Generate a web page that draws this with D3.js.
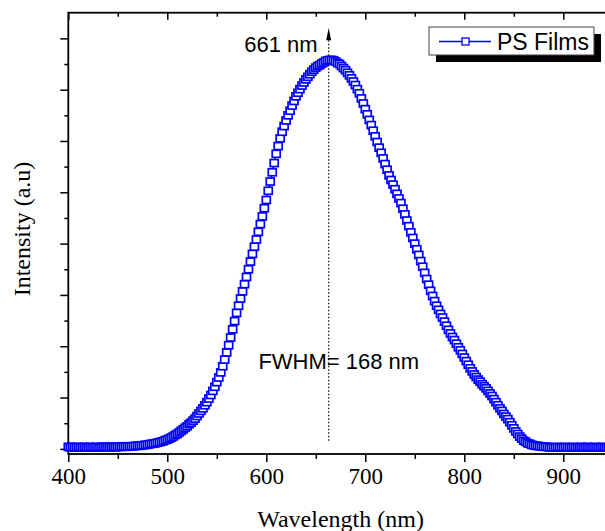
<!DOCTYPE html>
<html>
<head>
<meta charset="utf-8">
<script src="https://cdn.jsdelivr.net/npm/d3@7"></script>
<style>
  body { margin: 0; background: #fff; }
  svg { display: block; }
</style>
</head>
<body>
<svg id="chart"></svg>
<script>
const startWl = 400, stepWl = 2;
const intensity = [
  0.04, 0.03, 0.04, 0.03, 0.03, 0.04, 0.03, 0.03, 0.04, 0.03,
  0.03, 0.04, 0.03, 0.03, 0.04, 0.03, 0.03, 0.04, 0.04, 0.03,
  0.04, 0.03, 0.04, 0.04, 0.03, 0.04, 0.04, 0.04, 0.05, 0.04,
  0.05, 0.05, 0.05, 0.05, 0.06, 0.06, 0.06, 0.07, 0.07, 0.08,
  0.08, 0.09, 0.10, 0.10, 0.11, 0.12, 0.13, 0.14, 0.15, 0.17,
  0.18, 0.20, 0.22, 0.24, 0.27, 0.29, 0.32, 0.35, 0.38, 0.41,
  0.44, 0.48, 0.51, 0.55, 0.59, 0.64, 0.69, 0.74, 0.79, 0.85,
  0.91, 0.98, 1.05, 1.13, 1.21, 1.30, 1.39, 1.49, 1.61, 1.74,
  1.88, 2.02, 2.17, 2.33, 2.49, 2.65, 2.79, 2.93, 3.07, 3.21,
  3.35, 3.50, 3.65, 3.80, 3.94, 4.08, 4.23, 4.38, 4.53, 4.69,
  4.85, 5.03, 5.21, 5.39, 5.57, 5.75, 5.90, 6.05, 6.18, 6.29,
  6.40, 6.50, 6.59, 6.69, 6.78, 6.87, 6.94, 7.01, 7.08, 7.14,
  7.20, 7.25, 7.30, 7.35, 7.39, 7.43, 7.46, 7.48, 7.51, 7.53,
  7.56, 7.57, 7.58, 7.58, 7.57, 7.55, 7.52, 7.50, 7.46, 7.42,
  7.38, 7.33, 7.28, 7.22, 7.16, 7.09, 7.01, 6.93, 6.83, 6.73,
  6.62, 6.52, 6.41, 6.31, 6.20, 6.09, 5.98, 5.87, 5.77, 5.66,
  5.55, 5.44, 5.33, 5.24, 5.15, 5.06, 4.97, 4.88, 4.79, 4.68,
  4.57, 4.45, 4.34, 4.22, 4.11, 4.00, 3.89, 3.78, 3.66, 3.55,
  3.43, 3.31, 3.20, 3.08, 2.98, 2.88, 2.79, 2.71, 2.63, 2.56,
  2.48, 2.40, 2.32, 2.25, 2.18, 2.12, 2.05, 1.98, 1.92, 1.85,
  1.78, 1.71, 1.64, 1.57, 1.51, 1.45, 1.40, 1.35, 1.31, 1.26,
  1.22, 1.18, 1.13, 1.08, 1.03, 0.97, 0.91, 0.85, 0.79, 0.74,
  0.68, 0.63, 0.58, 0.52, 0.46, 0.40, 0.34, 0.29, 0.24, 0.20,
  0.16, 0.14, 0.11, 0.10, 0.08, 0.07, 0.06, 0.06, 0.05, 0.05,
  0.04, 0.04, 0.04, 0.03, 0.03, 0.03, 0.03, 0.04, 0.03, 0.03,
  0.03, 0.04, 0.03, 0.03, 0.03, 0.04, 0.03, 0.03, 0.03, 0.04,
  0.03, 0.03, 0.04, 0.03, 0.03, 0.03, 0.04, 0.03, 0.03, 0.03,
  0.04, 0.03, 0.03, 0.03, 0.03, 0.03
];
const wavelength = intensity.map((v, i) => startWl + i * stepWl);

const xMajor = [400, 500, 600, 700, 800, 900];
const xMinor = [450, 550, 650, 750, 850, 950];
const yMajor = [0, 1, 2, 3, 4, 5, 6, 7, 8];
const yMinor = [0.5, 1.5, 2.5, 3.5, 4.5, 5.5, 6.5, 7.5];

const seriesName = "PS Films";
const peakLine = 663;          // where the dotted marker sits
const peakText = "661 nm";
const fwhmText = "FWHM= 168 nm";
const fwhmPos = [592, 1.56];   // label anchor in data units

const width = 605, height = 531;
const blue = "#0000ff";

const svg = d3.select("#chart")
  .attr("width", width)
  .attr("height", height);

const x = d3.scaleLinear().domain([400, 950]).range([68.3, 612.8]);
const y = d3.scaleLinear().domain([-0.1, 8.5]).range([454, 12.7]);

const serif = "'Liberation Serif', 'Times New Roman', serif";
const sans = "'Liberation Sans', Arial, sans-serif";

// helper: draw an axis without its domain path
function drawAxis(axis, tx, ty, labels) {
  const g = svg.append("g")
    .attr("transform", `translate(${tx},${ty})`)
    .call(axis);
  g.select(".domain").remove();
  g.selectAll(".tick line").attr("stroke", "#000").attr("stroke-width", 1.5);
  if (!labels) g.selectAll(".tick text").remove();
  return g;
}

// bottom axis
const bottomMajor = drawAxis(d3.axisBottom(x).tickValues(xMajor).tickSize(8).tickPadding(6), 0, 454, true);
bottomMajor.selectAll(".tick text")
  .attr("font-family", serif)
  .attr("font-size", "23px")
  .attr("fill", "#000");
drawAxis(d3.axisBottom(x).tickValues(xMinor).tickSize(5), 0, 454, false);

// top axis (ticks point inward)
drawAxis(d3.axisTop(x).tickValues(xMajor).tickSize(-7), 0, 12.7, false);
drawAxis(d3.axisTop(x).tickValues(xMinor).tickSize(-4), 0, 12.7, false);

// left axis
drawAxis(d3.axisLeft(y).tickValues(yMajor).tickSize(8), 68.3, 0, false);
drawAxis(d3.axisLeft(y).tickValues(yMinor).tickSize(4), 68.3, 0, false);

// right axis (ticks inward)
drawAxis(d3.axisRight(y).tickValues(yMajor).tickSize(-7), 612.8, 0, false);
drawAxis(d3.axisRight(y).tickValues(yMinor).tickSize(-4), 612.8, 0, false);

// frame
svg.append("rect")
  .attr("x", x(400))
  .attr("y", y(8.5))
  .attr("width", x(950) - x(400))
  .attr("height", y(-0.1) - y(8.5))
  .attr("fill", "none")
  .attr("stroke", "#000")
  .attr("stroke-width", 1.8);

// dotted peak marker with arrow
svg.append("line")
  .attr("x1", x(peakLine)).attr("x2", x(peakLine))
  .attr("y1", y(0.16)).attr("y2", y(8.0))
  .attr("stroke", "#222")
  .attr("stroke-width", 1.4)
  .attr("stroke-dasharray", "1.5,2");
svg.append("path")
  .attr("d", `M${x(peakLine)},${y(8.2)} L${x(peakLine) - 2.5},${y(8.0) + 2} L${x(peakLine) + 2.5},${y(8.0) + 2} Z`)
  .attr("fill", "#000");

// spectrum line + open squares
const data = wavelength.map((w, i) => ({ w: w, v: intensity[i] }));

svg.append("path")
  .datum(data)
  .attr("fill", "none")
  .attr("stroke", blue)
  .attr("stroke-width", 1.6)
  .attr("d", d3.line().x(d => x(d.w)).y(d => y(d.v)));

svg.selectAll("rect.pt")
  .data(data)
  .enter()
  .append("rect")
  .attr("class", "pt")
  .attr("x", d => x(d.w) - 4)
  .attr("y", d => y(d.v) - 3.5)
  .attr("width", 8)
  .attr("height", 7)
  .attr("fill", "#fff")
  .attr("stroke", blue)
  .attr("stroke-width", 1.7);

// annotations
svg.append("text")
  .attr("x", x(peakLine) - 11)
  .attr("y", 52)
  .attr("text-anchor", "end")
  .attr("font-family", sans)
  .attr("font-size", "22px")
  .attr("fill", "#000")
  .text(peakText);

svg.append("text")
  .attr("x", x(fwhmPos[0]))
  .attr("y", y(fwhmPos[1]))
  .attr("font-family", sans)
  .attr("font-size", "22px")
  .attr("fill", "#000")
  .text(fwhmText);

// legend with drop shadow
const lg = svg.append("g");
lg.append("rect")
  .attr("x", 436).attr("y", 34).attr("width", 165).attr("height", 28)
  .attr("fill", "#000");
lg.append("rect")
  .attr("x", 429).attr("y", 27).attr("width", 165).attr("height", 28)
  .attr("fill", "#fff")
  .attr("stroke", "#444")
  .attr("stroke-width", 1);
lg.append("line")
  .attr("x1", 439).attr("x2", 491).attr("y1", 41.5).attr("y2", 41.5)
  .attr("stroke", blue).attr("stroke-width", 1.3);
lg.append("rect")
  .attr("x", 462).attr("y", 38).attr("width", 7).attr("height", 7)
  .attr("fill", "#fff").attr("stroke", blue).attr("stroke-width", 1.3);
lg.append("text")
  .attr("x", 497).attr("y", 49.5)
  .attr("font-family", sans)
  .attr("font-size", "23px")
  .attr("fill", "#000")
  .text(seriesName);

// axis titles
svg.append("text")
  .attr("x", x(675))
  .attr("y", 527)
  .attr("text-anchor", "middle")
  .attr("font-family", serif)
  .attr("font-size", "24px")
  .attr("fill", "#000")
  .text("Wavelength (nm)");

svg.append("text")
  .attr("transform", "translate(30,229) rotate(-90)")
  .attr("text-anchor", "middle")
  .attr("font-family", serif)
  .attr("font-size", "24px")
  .attr("fill", "#000")
  .text("Intensity (a.u)");
</script>
</body>
</html>
